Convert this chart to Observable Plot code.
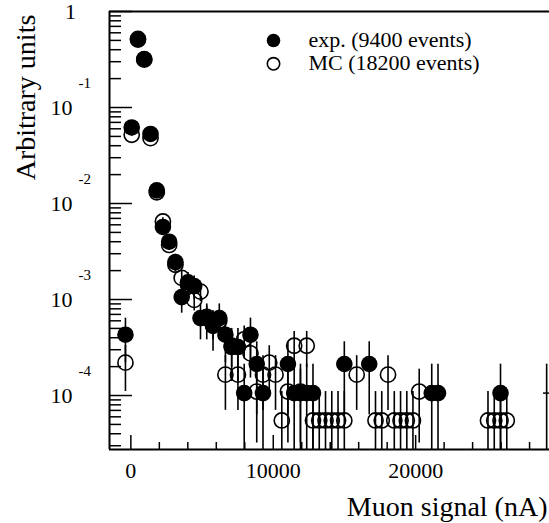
<!DOCTYPE html>
<html><head><meta charset="utf-8">
<script src="https://cdn.jsdelivr.net/npm/d3@7"></script>
<script src="https://cdn.jsdelivr.net/npm/@observablehq/plot@0.6"></script>
<style>body{margin:0;background:#fff} svg{display:block}</style>
</head><body><div id="chart"></div>
<script>
// Experimental data (filled circles)
const expX = [-380, 60, 500, 940, 1380, 1820, 2250, 2690, 3130, 3570, 4010, 4450, 4890, 5330, 5770, 6210, 6640, 7080, 7520, 7960, 8400, 8840, 9280, 11030, 11470, 11910, 12350, 12790, 14990, 16740, 21130, 21570, 25960];
const expY = [4.3e-4, 0.062, 0.52, 0.32, 0.053, 0.0137, 0.0057, 0.0040, 0.00245, 0.00106, 0.00151, 0.00138, 6.4e-4, 6.4e-4, 5.3e-4, 6.4e-4, 4.3e-4, 3.2e-4, 3.2e-4, 1.06e-4, 4.3e-4, 2.13e-4, 1.06e-4, 2.13e-4, 1.06e-4, 1.06e-4, 1.06e-4, 1.06e-4, 2.13e-4, 2.13e-4, 1.06e-4, 1.06e-4, 1.06e-4];
const expErr = [2.1e-4, 2.6e-3, 7.4e-3, 5.8e-3, 2.4e-3, 1.2e-3, 7.7e-4, 6.5e-4, 5.1e-4, 3.4e-4, 4.0e-4, 3.8e-4, 2.6e-4, 2.6e-4, 2.4e-4, 2.6e-4, 2.1e-4, 1.8e-4, 1.8e-4, 1.06e-4, 2.1e-4, 1.5e-4, 1.06e-4, 1.5e-4, 1.06e-4, 1.06e-4, 1.06e-4, 1.06e-4, 1.5e-4, 1.5e-4, 1.06e-4, 1.06e-4, 1.06e-4];
// bin at the right edge (only its error bar is visible)
const edgeX = [29200];
const edgeY = [1.06e-4];
const edgeErr = [1.06e-4];

// Monte Carlo (open circles)
const mcX = [-380, 60, 500, 940, 1380, 1820, 2250, 2690, 3130, 3570, 4010, 4450, 4890, 5330, 5770, 6210, 6640, 7080, 7520, 7960, 8400, 8840, 9280, 9720, 10160, 10600, 11030, 11470, 11910, 12350, 12790, 13230, 13670, 14110, 14550, 14990, 15860, 17180, 17620, 18060, 18500, 18940, 19380, 19810, 20250, 25080, 25520, 25960, 26400];
const mcY = [2.2e-4, 0.052, 0.51, 0.315, 0.048, 0.0131, 0.0065, 0.0037, 0.0023, 0.00168, 0.00143, 9.9e-4, 1.21e-3, 6.6e-4, 5.5e-4, 6.0e-4, 1.65e-4, 3.3e-4, 1.65e-4, 3.85e-4, 2.75e-4, 1.1e-4, 1.65e-4, 2.2e-4, 1.65e-4, 5.5e-5, 1.1e-4, 3.3e-4, 1.1e-4, 3.3e-4, 5.5e-5, 5.5e-5, 5.5e-5, 5.5e-5, 5.5e-5, 5.5e-5, 1.65e-4, 5.5e-5, 5.5e-5, 1.65e-4, 5.5e-5, 5.5e-5, 5.5e-5, 5.5e-5, 1.1e-4, 5.5e-5, 5.5e-5, 5.5e-5, 5.5e-5];
const mcErr = [1.1e-4, 1.7e-3, 5.3e-3, 4.2e-3, 1.6e-3, 8.5e-4, 6.0e-4, 4.5e-4, 3.6e-4, 3.0e-4, 2.8e-4, 2.3e-4, 2.6e-4, 1.9e-4, 1.7e-4, 1.8e-4, 9.5e-5, 1.35e-4, 9.5e-5, 1.45e-4, 1.23e-4, 7.8e-5, 9.5e-5, 1.1e-4, 9.5e-5, 5.5e-5, 7.8e-5, 1.35e-4, 7.8e-5, 1.35e-4, 5.5e-5, 5.5e-5, 5.5e-5, 5.5e-5, 5.5e-5, 5.5e-5, 9.5e-5, 5.5e-5, 5.5e-5, 9.5e-5, 5.5e-5, 5.5e-5, 5.5e-5, 5.5e-5, 7.8e-5, 5.5e-5, 5.5e-5, 5.5e-5, 5.5e-5];

// Axes
const xMin = -1500, xMax = 29400;
const yMin = 2.74e-5, yMax = 1;
const yMajor = [1, 0.1, 0.01, 0.001, 0.0001];
const yBase = ["1", "10", "10", "10", "10"];
const yExp = ["", "-1", "-2", "-3", "-4"];
const xMajor = [0, 10000, 20000];
const xLabels = ["0", "10000", "20000"];
const xMinorStep = 2000;
const legendLabels = ["exp. (9400 events)", "MC (18200 events)"];
const xTitle = "Muon signal (nA)";
const yTitle = "Arbitrary units";

const toRows = (X, Y, E) => X.map((x, i) => ({x, y: Y[i], e: E[i]}));
const exp = toRows(expX, expY, expErr);
const mc = toRows(mcX, mcY, mcErr);
const edge = toRows(edgeX, edgeY, edgeErr);

const yMinor = [];
for (let p = -5; p <= 0; p++) for (let m = 2; m <= 9; m++) {
  const v = m * Math.pow(10, p);
  if (v > yMin && v < yMax) yMinor.push(v);
}
const xMinor = d3.range(0, xMax, xMinorStep).filter(v => !xMajor.includes(v));

const W = 549, H = 523, mL = 109, mR = 0, mT = 11, mB = 74;
const frameW = W - mL - mR, frameH = H - mT - mB;
const font = "'Liberation Serif', 'Times New Roman', Times, serif";
const lo = d => Math.max(d.y - d.e, yMin);

const chart = Plot.plot({
  width: W, height: H,
  marginLeft: mL, marginRight: mR, marginTop: mT, marginBottom: mB,
  x: {domain: [xMin, xMax], axis: null},
  y: {type: "log", domain: [yMin, yMax], axis: null},
  style: {fontFamily: font, background: "white", color: "black"},
  marks: [
    // frame
    Plot.ruleX([xMin], {stroke: "black", strokeWidth: 2}),
    Plot.ruleY([yMin], {stroke: "black", strokeWidth: 2}),
    Plot.ruleY([yMax], {stroke: "black", strokeWidth: 2}),
    // y ticks (inside)
    Plot.tickY(yMajor, {y: d => d, insetRight: frameW - 23, stroke: "black", strokeWidth: 1.5}),
    Plot.tickY(yMinor, {y: d => d, insetRight: frameW - 12, stroke: "black", strokeWidth: 1.5}),
    // x ticks (inside)
    Plot.tickX(xMajor, {x: d => d, insetTop: frameH - 14, stroke: "black", strokeWidth: 1.5}),
    Plot.tickX(xMinor, {x: d => d, insetTop: frameH - 7, stroke: "black", strokeWidth: 1.5}),
    // y tick labels
    Plot.text(yMajor, {filter: (d, i) => i > 0, x: xMin, y: d => d, text: (d, i) => yBase[i], textAnchor: "end", dx: -37, lineAnchor: "middle", fontSize: 22, fill: "black"}),
    Plot.text(yMajor, {filter: (d, i) => i === 0, x: xMin, y: d => d, text: (d, i) => yBase[i], textAnchor: "middle", dx: -39, lineAnchor: "middle", fontSize: 22, fill: "black"}),
    Plot.text(yMajor, {filter: (d, i) => i > 0, x: xMin, y: d => d, text: (d, i) => yExp[i], textAnchor: "start", dx: -31, dy: -24, lineAnchor: "middle", fontSize: 15, fill: "black"}),
    // x tick labels
    Plot.text(xMajor, {x: d => d, y: yMin, text: (d, i) => xLabels[i], dy: 21.5, lineAnchor: "middle", fontSize: 22, fill: "black"}),
    // axis titles
    Plot.text([yTitle], {frameAnchor: "left", text: d => d, rotate: -90, textAnchor: "middle", dx: -83, dy: -133, lineAnchor: "middle", fontSize: 28, fill: "black"}),
    Plot.text([xTitle], {frameAnchor: "bottom-right", text: d => d, textAnchor: "end", lineAnchor: "bottom", dx: -2, dy: 66, fontSize: 28, fill: "black"}),
    // MC
    Plot.ruleX(mc, {x: "x", y1: lo, y2: d => d.y + d.e, stroke: "black", strokeWidth: 1.6}),
    Plot.dot(mc, {x: "x", y: "y", r: 7.6, fill: "none", stroke: "black", strokeWidth: 1.6}),
    // exp
    Plot.ruleX(exp, {x: "x", y1: lo, y2: d => d.y + d.e, stroke: "black", strokeWidth: 1.6}),
    Plot.ruleX(edge, {x: "x", y1: lo, y2: d => d.y + d.e, stroke: "black", strokeWidth: 1.6}),
    Plot.tickY(edge, {y: "y", insetLeft: frameW - 6, stroke: "black", strokeWidth: 1.5}),
    Plot.dot(exp, {x: "x", y: "y", r: 8.3, fill: "black", stroke: "none"}),
    // legend
    Plot.dot([0], {x: null, y: null, frameAnchor: "top-left", dx: 164, dy: 29, r: 6.8, fill: "black", stroke: "none"}),
    Plot.dot([0], {x: null, y: null, frameAnchor: "top-left", dx: 164, dy: 52.3, r: 6.2, fill: "none", stroke: "black", strokeWidth: 1.6}),
    Plot.text(legendLabels, {x: null, y: null, filter: (d, i) => i === 0, text: d => d, frameAnchor: "top-left", textAnchor: "start", lineAnchor: "middle", dx: 199, dy: 28.5, fontSize: 22, fill: "black"}),
    Plot.text(legendLabels, {x: null, y: null, filter: (d, i) => i === 1, text: d => d, frameAnchor: "top-left", textAnchor: "start", lineAnchor: "middle", dx: 199, dy: 51.8, fontSize: 22, fill: "black"})
  ]
});
document.getElementById("chart").appendChild(chart);
</script>
</body></html>
